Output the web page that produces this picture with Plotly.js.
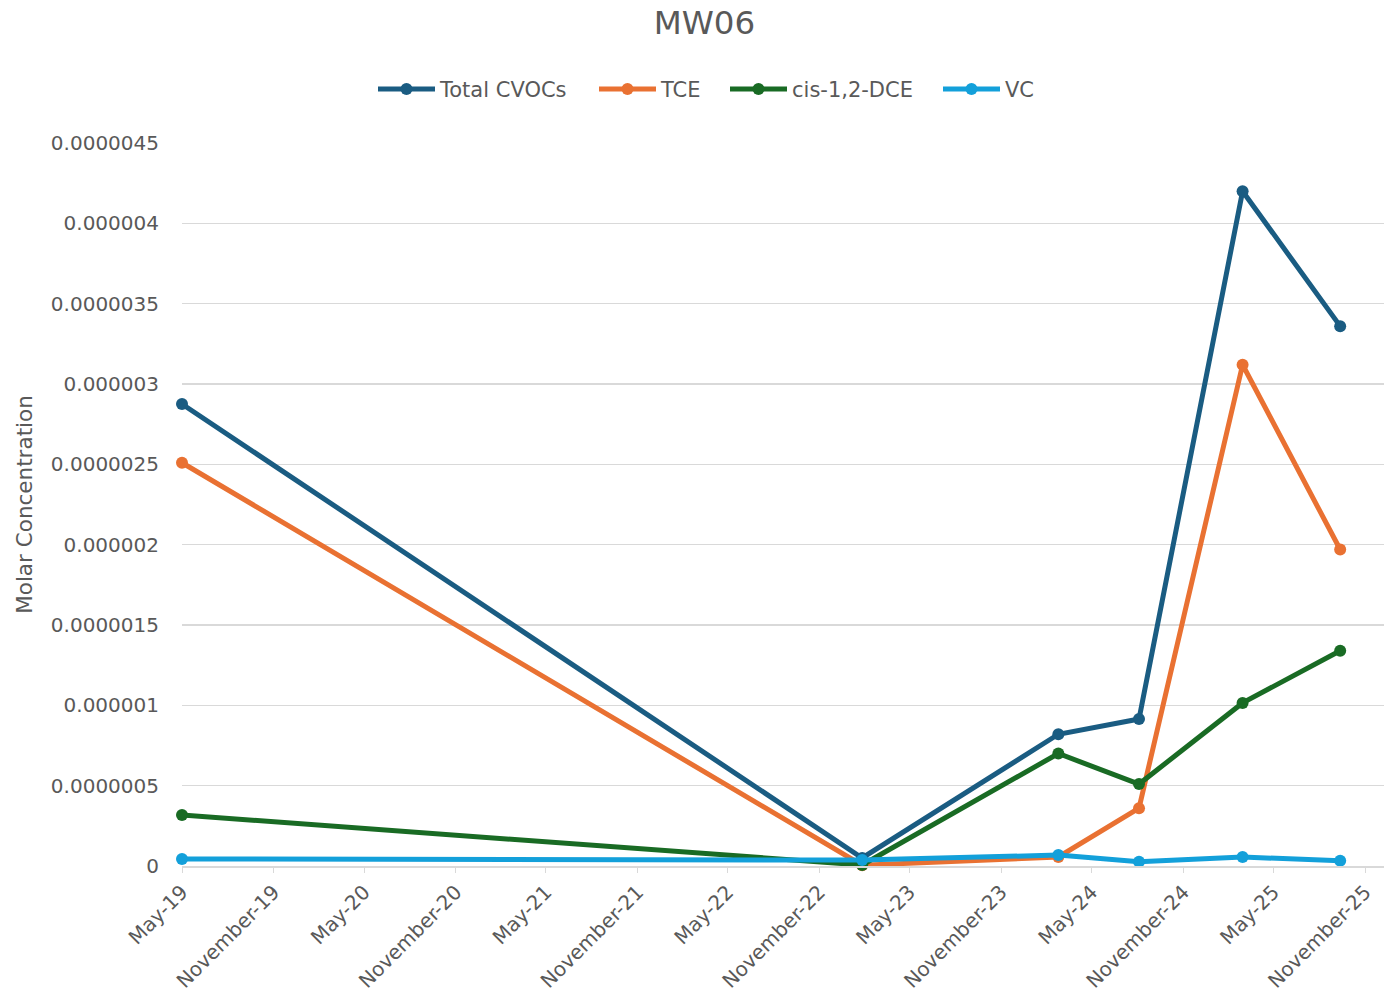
<!DOCTYPE html>
<html>
<head>
<meta charset="utf-8">
<script src="https://cdn.plot.ly/plotly-3.0.1.min.js"></script>
<style>html,body{margin:0;padding:0;background:#fff;}#chart{width:1384px;height:994px;}</style>
</head>
<body>
<div id="chart"></div>
<script>
const sampleDates = ['2019-05-01','2023-01-26','2024-02-24','2024-08-04','2025-02-28','2025-09-12'];
const totalCVOCs = [2.875e-6, 0.05e-6, 0.82e-6, 0.915e-6, 4.2e-6, 3.36e-6];
const tce        = [2.51e-6, 0.005e-6, 0.056e-6, 0.36e-6, 3.12e-6, 1.97e-6];
const cisDCE     = [0.317e-6, 0.006e-6, 0.70e-6, 0.51e-6, 1.015e-6, 1.34e-6];
const vc         = [0.044e-6, 0.037e-6, 0.068e-6, 0.026e-6, 0.056e-6, 0.032e-6];

const xTickVals = ['2019-05-01','2019-11-01','2020-05-01','2020-11-01','2021-05-01','2021-11-01','2022-05-01','2022-11-01','2023-05-01','2023-11-01','2024-05-01','2024-11-01','2025-05-01','2025-11-01'];
const xTickText = ['May-19','November-19','May-20','November-20','May-21','November-21','May-22','November-22','May-23','November-23','May-24','November-24','May-25','November-25'];
const yTickVals = [0, 0.5e-6, 1e-6, 1.5e-6, 2e-6, 2.5e-6, 3e-6, 3.5e-6, 4e-6, 4.5e-6];
const yTickText = ['0','0.0000005','0.000001','0.0000015','0.000002','0.0000025','0.000003','0.0000035','0.000004','0.0000045'];

const seriesNames = ['Total CVOCs','TCE','cis-1,2-DCE','VC'];
const seriesColors = ['#1A5C82','#E97132','#196B24','#13A0DA'];
const seriesValues = [totalCVOCs, tce, cisDCE, vc];

const FONT = 'DejaVu Sans, sans-serif';
const legendIds = ['legend','legend2','legend3','legend4'];
const legendLeftPx = [373, 594, 725, 938];

const traces = seriesNames.map((n, i) => ({
  type: 'scatter', mode: 'lines+markers', name: n, legend: legendIds[i],
  x: sampleDates, y: seriesValues[i],
  line: {color: seriesColors[i], width: 5},
  marker: {color: seriesColors[i], size: 12},
  cliponaxis: false
}));

const layout = {
  width: 1384, height: 994,
  paper_bgcolor: '#ffffff', plot_bgcolor: '#ffffff',
  margin: {l: 182, r: 0, t: 143, b: 128},
  font: {family: FONT, color: '#595959'},
  title: {text: 'MW06', font: {family: FONT, size: 32.5, color: '#595959'},
          x: 0.509, xref: 'container', y: 0.977, yref: 'container', xanchor: 'center', yanchor: 'middle'},
  showlegend: true,
  xaxis: {
    type: 'date', range: ['2019-05-01','2025-12-09'],
    tickvals: xTickVals, ticktext: xTickText, tickangle: -45,
    tickfont: {family: FONT, size: 20, color: '#595959'},
    showgrid: false, showline: true, linecolor: '#d9d9d9', linewidth: 1.5,
    ticks: 'outside', ticklen: 5, tickcolor: '#d9d9d9', zeroline: false, automargin: false
  },
  yaxis: {
    range: [0, 4.5e-6], tickvals: yTickVals, ticktext: yTickText,
    tickfont: {family: FONT, size: 20, color: '#595959'},
    showgrid: true, gridcolor: '#d9d9d9', gridwidth: 1.5, zeroline: false, showline: false,
    ticks: '', ticklabelstandoff: 22, automargin: false,
    title: {text: 'Molar Concentration', font: {family: FONT, size: 21.5, color: '#595959'}, standoff: 12}
  }
};
legendIds.forEach((id, i) => {
  layout[id] = {orientation: 'h', x: legendLeftPx[i] / 1384, xref: 'container', xanchor: 'left',
                y: 0.91, yref: 'container', yanchor: 'middle',
                font: {family: FONT, size: 21, color: '#595959'}, itemwidth: 57,
                bgcolor: 'rgba(0,0,0,0)'};
});

Plotly.newPlot('chart', traces, layout, {displayModeBar: false, staticPlot: true});
</script>
</body>
</html>
